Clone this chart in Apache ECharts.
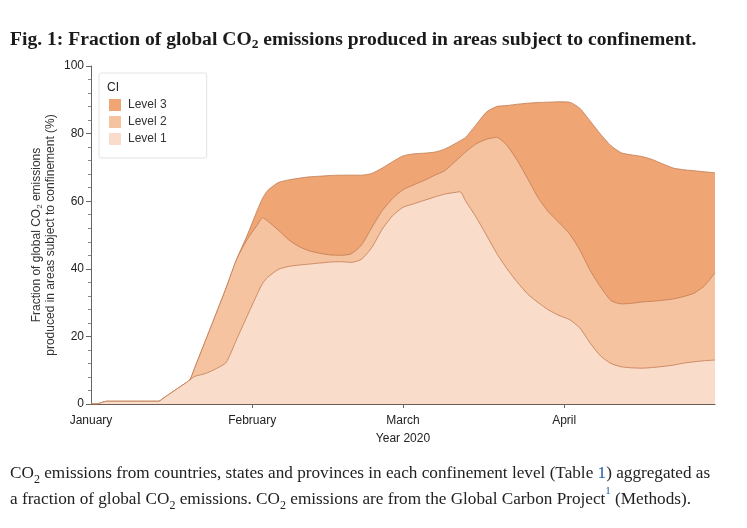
<!DOCTYPE html>
<html>
<head>
<meta charset="utf-8">
<script src="https://cdn.jsdelivr.net/npm/echarts@6/dist/echarts.min.js"></script>
<style>
html,body{margin:0;padding:0;background:#fff;}
#chart{width:747px;height:528px;}
</style>
</head>
<body>
<div id="chart"></div>
<script>
// Day offsets from 1 January 2020
const days = [0,1,3,6,9,13,14,16,18,19,20,22,24,26,28,30,32,33,34,36,38,40,42,44,46,48,50,52,54,56,58,60,62,64,66,68,70,71,72,74,76,78,80,82,84,86,88,90,92,94,96,98,100,102,104,106,108,110,112,114,116,118,120];
// Upper boundary of each confinement level area (cumulative %)
const level1Top = [0,0,0.8,0.8,0.8,0.8,1.8,3.9,6.0,7.1,8.2,9.0,10.4,12.3,19.1,25.9,32.6,35.7,37.5,39.8,40.7,41.1,41.4,41.7,42.0,42.1,41.9,42.8,46.3,51.7,55.7,58.2,59.2,60.2,61.2,62.1,62.6,62.8,60.2,55.4,50.1,44.6,40.0,36.0,32.5,30.0,27.8,26.2,25.0,22.5,18.0,14.2,12.0,11.0,10.7,10.6,10.8,11.1,11.5,12.1,12.5,12.8,13.0];
const level2Top = [0,0,0.8,0.8,0.8,0.8,1.8,3.9,6.0,7.1,10.9,18.7,26.5,34.4,42.8,48.6,53.0,55.1,54.1,51.5,48.6,46.6,45.3,44.6,44.1,44.0,44.4,47.0,52.2,57.2,60.8,63.4,64.8,66.1,67.6,69.0,71.7,73.1,74.5,76.9,78.3,78.9,76.5,72.0,66.6,61.0,56.8,53.7,50.4,45.6,39.5,34.6,30.6,29.6,29.8,30.2,30.4,30.7,31.1,31.8,32.8,35.0,38.8];
const level3Top = [0,0,0.8,0.8,0.8,0.8,1.8,3.9,6.0,7.1,10.9,18.7,26.5,34.4,42.8,49.8,57.4,60.9,63.2,65.5,66.3,66.8,67.2,67.4,67.6,67.7,67.7,67.7,68.2,69.8,71.7,73.4,74.0,74.2,74.5,75.4,77.0,77.9,78.8,82.5,86.3,88.0,88.3,88.7,89.0,89.2,89.3,89.4,89.3,87.5,83.7,79.8,76.4,74.3,73.7,73.2,72.3,71.0,69.8,69.3,69.0,68.7,68.4];

const monthTickDays = [0,31,60,91];
const monthLabels = ['January','February','March','April'];
const levelNames = ['Level 3','Level 2','Level 1'];
const levelColors = ['#EFA574','#F5C3A0','#FADCCB'];
const lineColor = '#C27B52';
const sansFont = "'Liberation Sans', Arial, Helvetica, sans-serif";
const serifFont = "'Liberation Serif', 'Times New Roman', serif";

const tops = [level3Top, level2Top, level1Top];

const chart = echarts.init(document.getElementById('chart'), null, {renderer:'canvas'});
chart.setOption({
  animation: false,
  backgroundColor: '#fff',
  title: {
    text: 'Fig. 1: Fraction of global CO{sub|2} emissions produced in areas subject to confinement.',
    left: 10, top: 28, padding: 0,
    textStyle: {
      fontFamily: serifFont, fontWeight: 'bold', fontSize: 19.6, lineHeight: 24, color: '#1a1a1a',
      rich: { sub: { fontFamily: serifFont, fontWeight: 'bold', fontSize: 13.5, lineHeight: 12, verticalAlign: 'bottom', color: '#1a1a1a' } }
    }
  },
  grid: { left: 91, right: 32, top: 66, bottom: 124, containLabel: false },
  legend: {
    orient: 'vertical', left: 99, top: 73,
    padding: [26, 40, 13, 10], itemGap: 5, itemWidth: 12, itemHeight: 12,
    backgroundColor: '#fff', borderColor: '#e3e3e3', borderWidth: 1, borderRadius: 2,
    icon: 'rect',
    textStyle: { fontFamily: sansFont, fontSize: 12, color: '#333', padding: [0, 0, 0, 2] },
    data: levelNames.map((n, i) => ({ name: n, itemStyle: { color: levelColors[i], borderWidth: 0 } }))
  },
  graphic: [
    { type: 'text', left: 107, top: 82, z: 100,
      style: { text: 'CI', fontFamily: sansFont, fontSize: 12, fill: '#222' } },
    { type: 'text', left: 10, top: 460, z: 100,
      style: {
        text: 'CO{sub|2} emissions from countries, states and provinces in each confinement level (Table {link|1}) aggregated as\na fraction of global CO{sub|2} emissions. CO{sub|2} emissions are from the Global Carbon Project{sup|1} (Methods).',
        fontFamily: serifFont, fontSize: 17.2, lineHeight: 26, fill: '#222',
        rich: {
          sub: { fontFamily: serifFont, fontSize: 12, lineHeight: 16, verticalAlign: 'bottom', fill: '#222' },
          link: { fontFamily: serifFont, fontSize: 17.2, lineHeight: 26, fill: '#1a5ea8' },
          sup: { fontFamily: serifFont, fontSize: 11, lineHeight: 21, verticalAlign: 'top', fill: '#1a5ea8' }
        }
      } }
  ],
  xAxis: {
    type: 'value', min: 0, max: 120,
    axisLine: { show: true, lineStyle: { color: '#6a5d56', width: 1 } },
    axisTick: { show: true, customValues: [31, 60, 91], length: 4, lineStyle: { color: '#666' } },
    axisLabel: {
      customValues: monthTickDays,
      formatter: v => monthLabels[monthTickDays.indexOf(v)] || '',
      fontFamily: sansFont, fontSize: 12, color: '#222', margin: 11
    },
    splitLine: { show: false },
    name: 'Year 2020', nameLocation: 'middle', nameGap: 29, nameMoveOverlap: false,
    nameTextStyle: { fontFamily: sansFont, fontSize: 12, color: '#222' }
  },
  yAxis: {
    type: 'value', min: 0, max: 100, interval: 20,
    axisLine: { show: true, lineStyle: { color: '#666', width: 1 } },
    axisTick: { show: true, length: 5, lineStyle: { color: '#666' } },
    minorTick: { show: true, splitNumber: 5, length: 3, lineStyle: { color: '#888' } },
    axisLabel: { fontFamily: sansFont, fontSize: 12, color: '#222', margin: 7 },
    splitLine: { show: false },
    minorSplitLine: { show: false },
    name: 'Fraction of global CO{sub|2} emissions\nproduced in areas subject to confinement (%)',
    nameLocation: 'middle', nameGap: 34, nameRotate: 90, nameMoveOverlap: false,
    nameTextStyle: {
      fontFamily: sansFont, fontSize: 12, lineHeight: 13.5, color: '#333',
      rich: { sub: { fontFamily: sansFont, fontSize: 8, lineHeight: 6, verticalAlign: 'bottom', color: '#333' } }
    }
  },
  series: levelNames.map((n, i) => ({
    type: 'line', name: n,
    data: days.map((d, k) => [d, tops[i][k]]),
    showSymbol: false, symbol: 'none',
    smooth: 0.2,
    lineStyle: { color: lineColor, width: 0.8 },
    itemStyle: { color: levelColors[i] },
    areaStyle: { color: levelColors[i], opacity: 1 },
    z: 2 + i
  }))
});
</script>
</body>
</html>
